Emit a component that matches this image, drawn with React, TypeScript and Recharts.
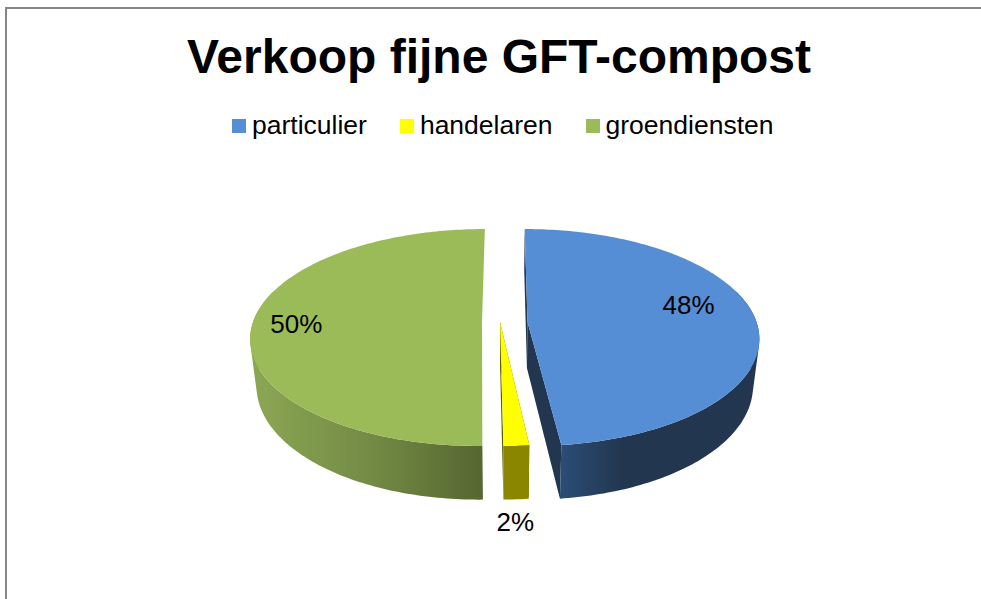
import React from "react";
import { PieChart, Pie, Cell, Legend } from "recharts";

const categories = ["particulier", "handelaren", "groendiensten"];
const shares = [48.2, 1.55, 50.25];
const percentLabels = ["48%", "2%", "50%"];
const topColors = ["#558ED5", "#FFFF00", "#9BBB59"];
const data = categories.map((name, i) => ({ name, value: shares[i] }));

const FONT = '"Liberation Sans", Arial, sans-serif';
const CX = 505;
const CY = 286; // the legend's 36px band is added by the chart layout
const R = 229;
const TILT = 0.464;
const PERSPECTIVE = 1 / 7;
const DEPTH = 46;
const BASE_SHRINK = 0.975;

const explode: Record<string, number> = { particulier: 22.5, handelaren: -5, groendiensten: -23 };
const wallStyles: Record<string, { stops: [number, string][]; x1: number; x2: number; face: string | null }> = {
  particulier: { stops: [[0, "#2B4C75"], [1, "#22374F"]], x1: 563, x2: 620, face: "#22374F" },
  handelaren: { stops: [[0, "#8B8600"], [1, "#8B8600"]], x1: 500, x2: 530, face: "#5F5C00" },
  groendiensten: { stops: [[0, "#8BA653"], [0.5, "#738B45"], [1, "#566630"]], x1: 256, x2: 483, face: null },
};
// radial position on the disc, then a shift from it, per slice
const labelPlace = [
  { r: 0.7, dx: 2, dy: -13 },
  { r: 1, dx: -1, dy: 76 },
  { r: 0.81, dx: 0, dy: 1 },
];

type Pt = { x: number; y: number; s: number; v: number };

const project = (deg: number, r: number, dx: number, cx: number, cy: number): Pt => {
  const t = (deg * Math.PI) / 180;
  const u = r * Math.sin(t);
  const v = -r * Math.cos(t);
  const s = 1 / (1 - PERSPECTIVE * v);
  return { x: cx + (dx + R * u) * s, y: cy + R * TILT * v * s, s, v };
};
const base = (p: Pt, cx: number) => ({
  x: cx + (p.x - cx) * BASE_SHRINK,
  y: p.y + DEPTH * p.s,
});
const toPath = (pts: { x: number; y: number }[]) =>
  "M" + pts.map((p) => `${p.x.toFixed(2)},${p.y.toFixed(2)}`).join("L") + "Z";
const signedArea = (pts: { x: number; y: number }[]) =>
  pts.reduce((sum, p, i) => {
    const q = pts[(i + 1) % pts.length];
    return sum + p.x * q.y - q.x * p.y;
  }, 0);

const Slice3D = (props: any) => {
  const { cx, cy, startAngle, endAngle, fill, name } = props;
  const dx = explode[name] ?? 0;
  const a0 = 90 - startAngle;
  const a1 = 90 - endAngle;
  const n = Math.max(2, Math.ceil((a1 - a0) / 1));
  const arc: Pt[] = [];
  for (let i = 0; i <= n; i++) arc.push(project(a0 + ((a1 - a0) * i) / n, 1, dx, cx, cy));
  const apex = project(0, 0, dx, cx, cy);
  const style = wallStyles[name];
  const id = `wall-${name}`;
  const first = arc[0];
  const last = arc[arc.length - 1];
  // the rim is swept segment by segment, so that its outline follows the tangent at the sides
  let rim = "";
  for (let i = 0; i < n; i++) {
    if (arc[i].v < -0.3 || arc[i + 1].v < -0.3) continue;
    const quad = [arc[i], arc[i + 1], base(arc[i + 1], cx), base(arc[i], cx)];
    rim += toPath(signedArea(quad) < 0 ? quad.reverse() : quad);
  }
  return (
    <g>
      <defs>
        <linearGradient id={id} gradientUnits="userSpaceOnUse" x1={style.x1} x2={style.x2} y1={0} y2={0}>
          {style.stops.map(([o, c]) => (
            <stop key={o} offset={o} stopColor={c} />
          ))}
        </linearGradient>
      </defs>
      {style.face && <path d={toPath([apex, first, base(first, cx), base(apex, cx)])} fill={style.face} />}
      {style.face && <path d={toPath([apex, last, base(last, cx), base(apex, cx)])} fill={style.face} />}
      <path d={rim} fill={`url(#${id})`} />
      <path d={toPath([apex, ...arc])} fill={fill} />
    </g>
  );
};

const renderLabel = (props: any) => {
  const { cx, cy, midAngle, index, name } = props;
  const place = labelPlace[index];
  const p = project(90 - midAngle, place.r, explode[name] ?? 0, cx, cy);
  return (
    <text
      x={p.x + place.dx}
      y={p.y + place.dy}
      textAnchor="middle"
      dominantBaseline="central"
      fontFamily={FONT}
      fontSize={26}
      fill="#000"
    >
      {percentLabels[index]}
    </text>
  );
};

const LegendContent = (props: any) => (
  <div style={{ display: "flex", fontFamily: FONT, fontSize: 26.5, lineHeight: "36px", color: "#000" }}>
    {(props.payload ?? []).map((entry: any, i: number) => (
      <div key={entry.value} style={{ display: "flex", alignItems: "center", marginLeft: i ? 33 : 0 }}>
        <span style={{ width: 14, height: 14, background: entry.color, marginRight: 6, display: "block" }} />
        <span style={{ position: "relative", top: -1 }}>{entry.value}</span>
      </div>
    ))}
  </div>
);

export default function App() {
  return (
    <div style={{ position: "absolute", left: 0, top: 0, width: 981, height: 599, overflow: "hidden", background: "#fff" }}>
      <div
        style={{
          position: "absolute",
          left: 5,
          top: 7,
          width: 976,
          height: 592,
          boxSizing: "border-box",
          borderLeft: "2px solid #868686",
          borderTop: "2px solid #868686",
        }}
      />
      <div style={{ position: "absolute", left: 0, top: 0 }}>
        <PieChart width={981} height={599} margin={{ top: 0, right: 0, bottom: 0, left: 0 }}>
          <text x={499} y={73} textAnchor="middle" fontFamily={FONT} fontWeight="bold" fontSize={48} fill="#000">
            Verkoop fijne GFT-compost
          </text>
          <Legend
            content={<LegendContent />}
            verticalAlign="top"
            itemSorter={null}
            wrapperStyle={{ position: "absolute", left: 232, top: 108, width: "auto" }}
          />
          <Pie
            data={data}
            dataKey="value"
            nameKey="name"
            cx={CX}
            cy={CY}
            outerRadius={R}
            startAngle={90}
            endAngle={-270}
            stroke="none"
            isAnimationActive={false}
            labelLine={false}
            label={renderLabel}
            shape={Slice3D}
          >
            {data.map((d, i) => (
              <Cell key={d.name} fill={topColors[i]} />
            ))}
          </Pie>
        </PieChart>
      </div>
    </div>
  );
}
